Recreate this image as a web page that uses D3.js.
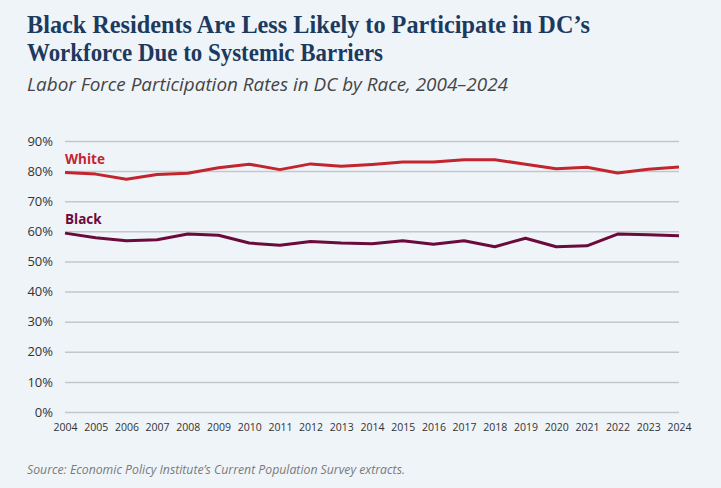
<!DOCTYPE html>
<html>
<head>
<meta charset="utf-8">
<script src="https://cdn.jsdelivr.net/npm/d3@7"></script>
<style>
  html, body { margin: 0; padding: 0; background: #eff4f9; }
  svg { display: block; }
</style>
</head>
<body>
<div class="svg-container"></div>
<script>
const w = 721;
const h = 488;

const years = d3.range(2004, 2025);
const white = [79.5, 79.0, 77.3, 78.9, 79.3, 81.1, 82.3, 80.5, 82.4, 81.6, 82.2,
	83.0, 83.0, 83.8, 83.8, 82.3, 80.8, 81.3, 79.4, 80.6, 81.4];
const black = [59.4, 57.9, 56.9, 57.2, 59.1, 58.7, 56.1, 55.4, 56.6, 56.1, 55.9,
	56.9, 55.7, 56.9, 54.9, 57.7, 54.9, 55.2, 59.1, 58.9, 58.5];
const yTicks = [0, 10, 20, 30, 40, 50, 60, 70, 80, 90];

const series = [
	{name: 'White', values: white, color: '#c3252f', labelY: 164},
	{name: 'Black', values: black, color: '#6a0b3b', labelY: 224},
];

const svg = d3
	.select('.svg-container')
	.append('svg')
	.attr('width', w)
	.attr('height', h)
	.style('background-color', '#eff4f9');

const xScale = d3.scaleLinear().domain([2004, 2024]).range([65, 679]);
const yScale = d3.scaleLinear().domain([0, 90]).range([412, 141]);

// title
const titleLines = [
	['Black Residents Are Less Likely to Participate in DC\u2019s', 33, 563],
	['Workforce Due to Systemic Barriers', 61, 356],
];
titleLines.forEach(([txt, y, len]) => {
	svg
		.append('text')
		.attr('x', 27)
		.attr('y', y)
		.attr('textLength', len)
		.attr('lengthAdjust', 'spacingAndGlyphs')
		.style('font-family', '"Liberation Serif", serif')
		.style('font-weight', 'bold')
		.style('font-size', '25px')
		.style('fill', '#1c3a5e')
		.text(txt);
});

svg
	.append('text')
	.attr('x', 27)
	.attr('y', 91)
	.attr('textLength', 481)
	.attr('lengthAdjust', 'spacingAndGlyphs')
	.style('font-family', '"Open Sans", sans-serif')
	.style('font-style', 'italic')
	.style('font-size', '18px')
	.style('fill', '#454545')
	.text('Labor Force Participation Rates in DC by Race, 2004\u20132024');

// gridlines + y labels
const yAxis = d3
	.axisLeft(yScale)
	.tickValues(yTicks)
	.tickSize(-(679 - 65))
	.tickPadding(12)
	.tickFormat(d => d + '%');

const gy = svg.append('g').attr('transform', 'translate(65, 0)').call(yAxis);
gy.select('.domain').remove();
gy.selectAll('.tick line').attr('stroke', '#c3c6ca').attr('stroke-width', 1.5);
gy.selectAll('.tick text')
	.style('font-family', '"Open Sans", sans-serif')
	.style('font-size', '13px')
	.style('fill', '#333');

// x labels
const xAxis = d3
	.axisBottom(xScale)
	.tickValues(years)
	.tickSize(0)
	.tickPadding(12)
	.tickFormat(d => d);

const gx = svg.append('g').attr('transform', 'translate(0, 412)').call(xAxis);
gx.select('.domain').remove();
gx.selectAll('.tick text')
	.style('font-family', '"Open Sans", sans-serif')
	.style('font-size', '10.5px')
	.style('fill', '#333');

// lines
const line = d3
	.line()
	.x((d, i) => xScale(years[i]))
	.y(d => yScale(d));

series.forEach(s => {
	svg
		.append('path')
		.datum(s.values)
		.attr('d', line)
		.attr('fill', 'none')
		.attr('stroke', s.color)
		.attr('stroke-width', 3)
		.attr('stroke-linejoin', 'round');

	svg
		.append('text')
		.attr('x', 65)
		.attr('y', s.labelY)
		.style('font-family', '"Open Sans", sans-serif')
		.style('font-weight', 'bold')
		.style('font-size', '13.5px')
		.style('fill', s.color)
		.text(s.name);
});

svg
	.append('text')
	.attr('x', 27)
	.attr('y', 474)
	.attr('textLength', 378)
	.attr('lengthAdjust', 'spacingAndGlyphs')
	.style('font-family', '"Open Sans", sans-serif')
	.style('font-style', 'italic')
	.style('font-size', '12px')
	.style('fill', '#7a7a7a')
	.text('Source: Economic Policy Institute\u2019s Current Population Survey extracts.');
</script>
</body>
</html>
